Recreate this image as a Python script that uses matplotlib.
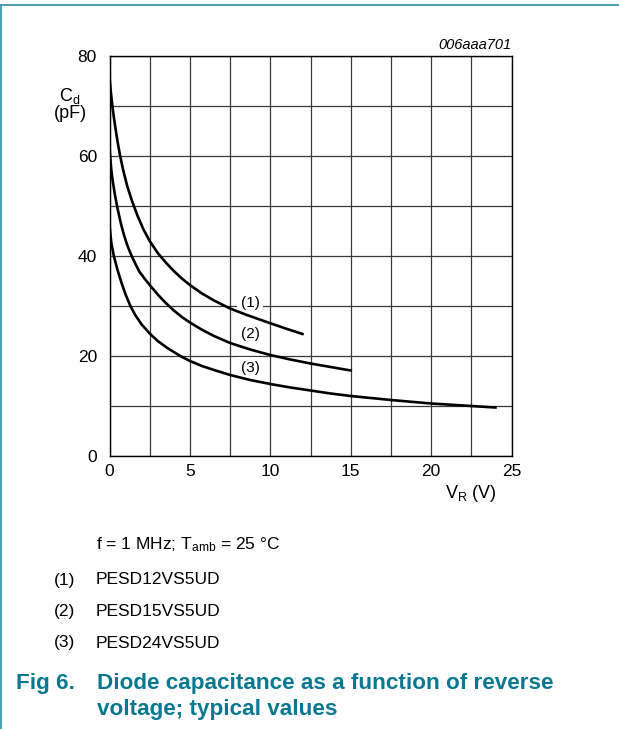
import matplotlib as mpl
mpl.use('Agg')

import matplotlib.pyplot as plt
from matplotlib.lines import Line2D

plt.rcParams['font.family'] = ['Liberation Sans', 'DejaVu Sans']
plt.rcParams['mathtext.fontset'] = 'custom'
plt.rcParams['mathtext.rm'] = 'Liberation Sans'
plt.rcParams['mathtext.it'] = 'Liberation Sans:italic'

# values (V_R in V, C_d in pF)
v_12 = [0, 0.05, 0.1, 0.2, 0.35, 0.5, 0.65, 0.85, 1.1, 1.4, 1.75, 2.1, 2.5, 3.0, 3.5,
        4.0, 4.5, 5.0, 5.75, 6.5, 7.5, 8.5, 9.25, 10.0, 11.0, 12.0]
c_12 = [75.9, 73.9, 72.3, 69.4, 66.0, 62.9, 60.2, 57.2, 54.0, 51.0, 48.0, 45.4, 43.0, 40.6, 38.7,
        37.0, 35.5, 34.2, 32.5, 31.1, 29.5, 28.25, 27.4, 26.55, 25.45, 24.4]

v_15 = [0, 0.05, 0.12, 0.2, 0.35, 0.5, 0.7, 0.9, 1.1, 1.35, 1.6, 1.85, 2.2, 2.5, 3.0, 3.5,
        4.0, 4.5, 5.0, 5.75, 6.5, 7.5, 8.75, 10.0, 11.25, 12.5, 13.75, 15.0]
c_15 = [61.9, 59.5, 57.0, 55.0, 52.0, 49.5, 46.6, 44.2, 42.2, 40.2, 38.5, 36.9, 35.4, 34.2, 32.3, 30.6,
        29.1, 27.8, 26.7, 25.25, 24.0, 22.6, 21.3, 20.2, 19.3, 18.5, 17.8, 17.1]

v_24 = [0, 0.05, 0.12, 0.27, 0.5, 0.75, 1.0, 1.3, 1.6, 2.0, 2.5, 3.0, 3.6, 4.4, 5.0, 5.75,
        6.5, 7.5, 8.75, 10.0, 11.25, 12.5, 13.75, 15.0, 16.25, 17.5, 18.75, 20.0, 21.0, 22.0,
        23.0, 24.0]
c_24 = [46.3, 44.5, 42.5, 40.0, 37.2, 34.6, 32.3, 30.0, 28.2, 26.3, 24.5, 23.0, 21.6, 20.0, 19.0, 18.0,
        17.2, 16.2, 15.2, 14.4, 13.7, 13.1, 12.5, 12.0, 11.6, 11.2, 10.85, 10.5, 10.3, 10.1,
        9.9, 9.7]

curve_labels = ['(1)', '(2)', '(3)']
label_pos = [(8.74, 30.7), (8.74, 24.4), (8.74, 17.7)]
devices = ['PESD12VS5UD', 'PESD15VS5UD', 'PESD24VS5UD']

W, H = 619, 729
teal = '#0b7892'


def px(x, y):
    return x / W, 1 - y / H


fig = plt.figure(figsize=(W / 100, H / 100), dpi=100)
ax = fig.add_axes([109.5 / W, 1 - 456 / H, (511.5 - 109.5) / W, 400 / H])

ax.set_xlim(0, 25)
ax.set_ylim(0, 80)
ax.set_xticks([0, 5, 10, 15, 20, 25])
ax.set_yticks([0, 20, 40, 60, 80])
ax.set_xticks([2.5 * i for i in range(11)], minor=True)
ax.set_yticks([10 * i for i in range(9)], minor=True)
ax.grid(which='both', color='#3a3a3a', linewidth=0.9, zorder=1)
ax.set_axisbelow(True)
ax.tick_params(which='both', length=0, labelsize=12.5)
ax.tick_params(axis='x', pad=6)
ax.tick_params(axis='y', pad=9)
for s in ax.spines.values():
    s.set_linewidth(1.0)

for v, c in [(v_12, c_12), (v_15, c_15), (v_24, c_24)]:
    ax.plot(v, c, color='black', linewidth=1.9, solid_joinstyle='round', zorder=3)

for lab, (x, y) in zip(curve_labels, label_pos):
    ax.text(x, y, lab, fontsize=11, ha='center', va='center', zorder=2.5,
            bbox=dict(facecolor='white', edgecolor='none', pad=2.5))

fig.text(*px(70, 96), r'C$_\mathregular{d}$', fontsize=13, ha='center', va='center')
fig.text(*px(70, 114), '(pF)', fontsize=13, ha='center', va='center')
fig.text(*px(497, 494), r'V$_\mathregular{R}$ (V)', fontsize=13, ha='right', va='center')
fig.text(*px(511, 45), '006aaa701', fontsize=10.5, style='italic', ha='right', va='center')

fig.text(*px(96, 545), r'f = 1 MHz; T$_\mathregular{amb}$ = 25 °C', fontsize=12.5,
         ha='left', va='center')
for i, (lab, dev) in enumerate(zip(curve_labels, devices)):
    y = 580 + 31.5 * i
    fig.text(*px(54, y), lab, fontsize=12.5, ha='left', va='center')
    fig.text(*px(96, y), dev, fontsize=12.5, ha='left', va='center')

fig.text(*px(16, 683), 'Fig 6.', fontsize=16.2, weight='bold', color=teal,
         ha='left', va='center')
fig.text(*px(97, 683), 'Diode capacitance as a function of reverse', fontsize=16.2,
         weight='bold', color=teal, ha='left', va='center')
fig.text(*px(97, 710), 'voltage; typical values', fontsize=16.2, weight='bold',
         color=teal, ha='left', va='center')

# page frame (top and left rule)
border = '#3c96ab'
fig.add_artist(Line2D([0, 1], [1 - 4.5 / H] * 2, color=border, linewidth=1.3,
                      transform=fig.transFigure))
fig.add_artist(Line2D([1.2 / W] * 2, [0, 1 - 4.5 / H], color=border, linewidth=1.3,
                      transform=fig.transFigure))

fig.savefig('out.png', dpi=100)
